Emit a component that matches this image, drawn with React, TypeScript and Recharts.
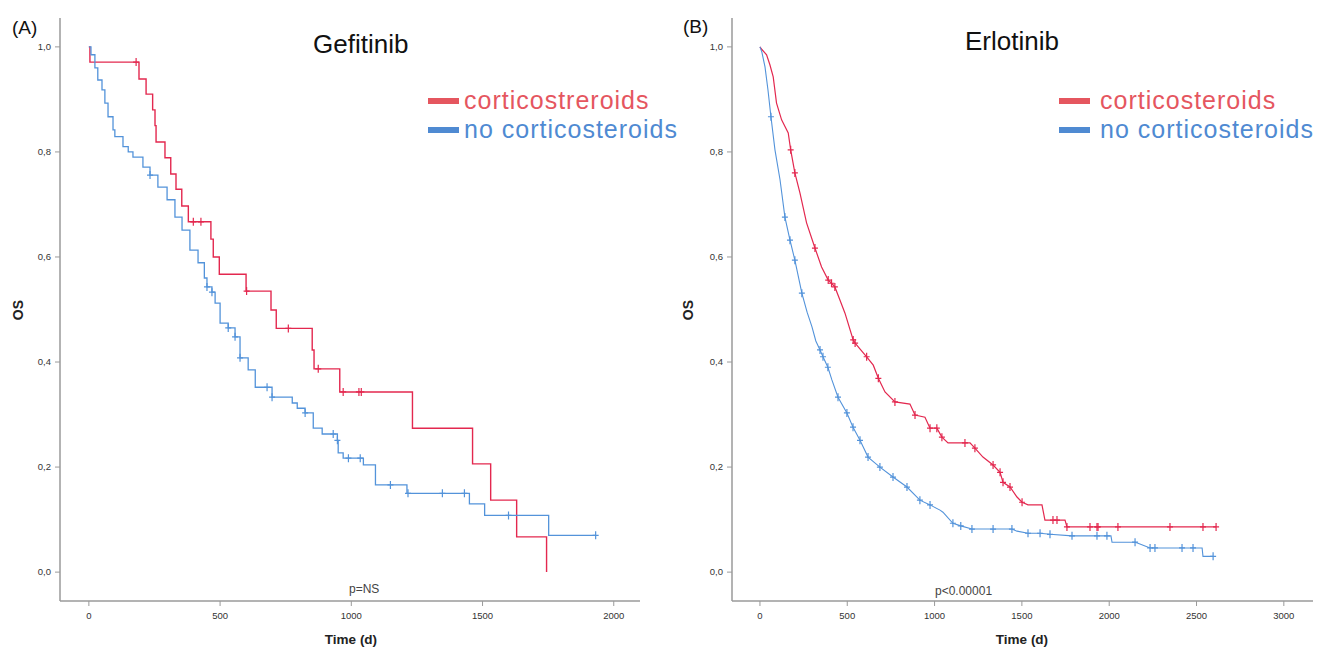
import React from "react";
import { LineChart, Line, XAxis, YAxis, Legend } from "recharts";

// [time (d), OS, censored?]
type Pt = [number, number, number?];

const gefCortico: Pt[] = [
  [0, 1], [4, 0.971], [180, 0.971, 1], [191, 0.939], [218, 0.91], [243, 0.88], [252, 0.85],
  [256, 0.819], [290, 0.789], [312, 0.758], [332, 0.729], [354, 0.697], [379, 0.667],
  [398, 0.667, 1], [427, 0.667, 1], [465, 0.634], [474, 0.6], [497, 0.567], [599, 0.535],
  [601, 0.535, 1], [694, 0.499], [714, 0.464], [760, 0.464, 1], [851, 0.423], [858, 0.387],
  [874, 0.387, 1], [956, 0.343], [969, 0.343, 1], [1029, 0.343, 1], [1038, 0.343, 1],
  [1233, 0.274], [1462, 0.206], [1531, 0.137], [1630, 0.067], [1744, 0],
];

const gefNoCortico: Pt[] = [
  [0, 1], [8, 0.985], [23, 0.96], [34, 0.937], [50, 0.918], [61, 0.893], [73, 0.867],
  [92, 0.842], [99, 0.829], [130, 0.81], [150, 0.8], [168, 0.79], [206, 0.771],
  [233, 0.756, 1], [263, 0.733], [298, 0.709], [328, 0.676], [355, 0.651], [385, 0.613],
  [416, 0.589], [440, 0.56], [450, 0.543, 1], [469, 0.533, 1], [481, 0.512], [500, 0.474],
  [531, 0.465, 1], [557, 0.448, 1], [576, 0.408, 1], [607, 0.385], [634, 0.352],
  [679, 0.352, 1], [698, 0.333, 1], [775, 0.322], [794, 0.312], [824, 0.303, 1], [855, 0.274],
  [889, 0.263], [931, 0.263, 1], [947, 0.251, 1], [950, 0.227], [969, 0.217], [989, 0.217, 1],
  [1034, 0.217, 1], [1046, 0.204], [1092, 0.166], [1149, 0.166, 1], [1212, 0.15],
  [1216, 0.15, 1], [1347, 0.15, 1], [1431, 0.15, 1], [1450, 0.13], [1508, 0.108],
  [1599, 0.108, 1], [1752, 0.07], [1931, 0.07, 1],
];

const erlCortico: Pt[] = [
  [0, 1], [11, 0.995], [38, 0.985], [57, 0.966], [76, 0.943], [95, 0.893], [124, 0.861],
  [162, 0.836], [176, 0.804, 1], [200, 0.76, 1], [229, 0.722], [267, 0.665], [315, 0.617, 1],
  [353, 0.581], [391, 0.556, 1], [410, 0.55, 1], [429, 0.543, 1], [458, 0.518], [487, 0.493],
  [534, 0.442, 1], [545, 0.436, 1], [611, 0.41, 1], [649, 0.394], [678, 0.369, 1], [716, 0.343],
  [773, 0.324, 1], [859, 0.32], [888, 0.299, 1], [945, 0.295], [974, 0.274, 1],
  [1013, 0.274, 1], [1042, 0.257, 1], [1077, 0.246], [1174, 0.246, 1], [1203, 0.246],
  [1231, 0.236, 1], [1277, 0.219], [1335, 0.204, 1], [1375, 0.19, 1], [1392, 0.171, 1],
  [1432, 0.162, 1], [1472, 0.143], [1501, 0.133, 1], [1535, 0.128], [1615, 0.128],
  [1632, 0.099], [1678, 0.099, 1], [1701, 0.099, 1], [1747, 0.099], [1758, 0.086, 1],
  [1890, 0.086, 1], [1930, 0.086, 1], [1936, 0.086, 1], [2050, 0.086, 1], [2348, 0.086, 1],
  [2537, 0.086, 1], [2612, 0.086, 1],
];

const erlNoCortico: Pt[] = [
  [0, 1], [11, 0.99], [29, 0.962], [46, 0.918], [63, 0.867, 1], [86, 0.804], [115, 0.747],
  [143, 0.676, 1], [172, 0.632, 1], [200, 0.594, 1], [240, 0.531, 1], [270, 0.495],
  [298, 0.467], [320, 0.44], [344, 0.423, 1], [361, 0.41, 1], [389, 0.39, 1], [412, 0.366],
  [447, 0.333, 1], [498, 0.303, 1], [533, 0.276, 1], [573, 0.251, 1], [619, 0.219, 1],
  [687, 0.2, 1], [762, 0.181, 1], [842, 0.162, 1], [916, 0.137, 1], [974, 0.128, 1],
  [1031, 0.118], [1048, 0.114], [1105, 0.093, 1], [1150, 0.088, 1], [1214, 0.082, 1],
  [1335, 0.082, 1], [1443, 0.082, 1], [1472, 0.078], [1535, 0.074, 1], [1604, 0.074, 1],
  [1661, 0.072, 1], [1787, 0.069, 1], [1930, 0.069, 1], [1987, 0.069, 1], [2010, 0.069],
  [2016, 0.057], [2148, 0.057, 1], [2165, 0.055], [2234, 0.046, 1], [2262, 0.046, 1],
  [2417, 0.046, 1], [2480, 0.046, 1], [2532, 0.046], [2537, 0.03], [2595, 0.03, 1],
];

const survTicks = [0, 0.2, 0.4, 0.6, 0.8, 1.0];
const gefTimeTicks = [0, 500, 1000, 1500, 2000];
const erlTimeTicks = [0, 500, 1000, 1500, 2000, 2500, 3000];

const gefNames = ["corticostreroids", "no corticosteroids"];
const erlNames = ["corticosteroids", "no corticosteroids"];

const FONT = '"Liberation Sans", Arial, sans-serif';
const RED = "#e3284f";
const BLUE = "#5393da";
const LEG_RED = "#e5565f";
const LEG_BLUE = "#4f8ad2";
const AXIS = "#9a9a9a";

const toRows = (pts: Pt[]) => pts.map(([t, s, c]) => ({ t, s, c: c ?? 0 }));

const censorDot = (color: string) => (props: any) => {
  const { cx, cy, payload, index } = props;
  if (!payload || !payload.c || cx == null || cy == null) return <g key={`n${index}`} />;
  return (
    <path
      key={`c${index}`}
      d={`M${cx - 3},${cy}h6M${cx},${cy - 4}v8`}
      stroke={color}
      strokeWidth={1.2}
      fill="none"
    />
  );
};

type PanelProps = {
  left: number;
  width: number;
  right: number;
  xDomain: [number, number];
  xTicks: number[];
  cortico: Pt[];
  noCortico: Pt[];
  names: string[];
  curve: "stepAfter" | "linear";
  lineWidth: number;
  legendLeft: number;
  legendGap: number;
};

function Panel(p: PanelProps) {
  const legendColors = [LEG_RED, LEG_BLUE];
  return (
    <div style={{ position: "absolute", left: p.left, top: 0 }}>
      <LineChart width={p.width} height={648} margin={{ top: 18, right: p.right, bottom: 17, left: 0 }}>
        <XAxis
          dataKey="t"
          type="number"
          domain={p.xDomain}
          ticks={p.xTicks}
          allowDataOverflow
          interval={0}
          height={30}
          axisLine={{ stroke: AXIS, strokeWidth: 1.5 }}
          tickLine={{ stroke: AXIS }}
          tickSize={5}
          tickMargin={6}
          tick={{ fill: "#333", fontSize: 9.5, fontFamily: FONT }}
        />
        <YAxis
          type="number"
          domain={[-0.055, 1.055]}
          ticks={survTicks}
          allowDataOverflow
          interval={0}
          width={60}
          axisLine={{ stroke: AXIS, strokeWidth: 1.5 }}
          tickLine={{ stroke: AXIS }}
          tickSize={5}
          tickMargin={4}
          tick={{ fill: "#333", fontSize: 9.5, fontFamily: FONT }}
          tickFormatter={(v: number) => v.toFixed(1).replace(".", ",")}
        />
        <Legend
          layout="vertical"
          align="center"
          verticalAlign="middle"
          wrapperStyle={{ left: p.legendLeft, top: 86, bottom: "auto", width: 280, height: 58 }}
          content={(lp: any) => (
            <div style={{ fontFamily: FONT }}>
              {(lp.payload || []).map((e: any, i: number) => (
                <div key={i} style={{ display: "flex", alignItems: "center", height: 28.5 }}>
                  <div style={{ width: 31, height: 6, marginTop: 2, background: legendColors[i] }} />
                  <span
                    style={{
                      marginLeft: p.legendGap,
                      fontSize: 25,
                      lineHeight: "28.5px",
                      letterSpacing: 1.0,
                      color: legendColors[i],
                      whiteSpace: "nowrap",
                    }}
                  >
                    {e.value}
                  </span>
                </div>
              ))}
            </div>
          )}
        />
        <Line
          data={toRows(p.cortico)}
          dataKey="s"
          name={p.names[0]}
          type={p.curve}
          stroke={RED}
          strokeWidth={p.lineWidth + 0.1}
          dot={censorDot(RED)}
          activeDot={false}
          isAnimationActive={false}
        />
        <Line
          data={toRows(p.noCortico)}
          dataKey="s"
          name={p.names[1]}
          type={p.curve}
          stroke={BLUE}
          strokeWidth={p.lineWidth}
          dot={censorDot(BLUE)}
          activeDot={false}
          isAnimationActive={false}
        />
      </LineChart>
    </div>
  );
}

export default function App() {
  return (
    <div style={{ position: "absolute", left: 0, top: 0, width: 1319, height: 648, background: "#fff", overflow: "hidden" }}>
      <Panel
        left={0}
        width={660}
        right={20}
        xDomain={[-110, 2100]}
        xTicks={gefTimeTicks}
        cortico={gefCortico}
        noCortico={gefNoCortico}
        names={gefNames}
        curve="stepAfter"
        lineWidth={1.3}
        legendLeft={428}
        legendGap={5}
      />
      <Panel
        left={672}
        width={647}
        right={6}
        xDomain={[-160, 3167]}
        xTicks={erlTimeTicks}
        cortico={erlCortico}
        noCortico={erlNoCortico}
        names={erlNames}
        curve="linear"
        lineWidth={1.1}
        legendLeft={387}
        legendGap={10}
      />
      <svg width={1319} height={648} style={{ position: "absolute", left: 0, top: 0, pointerEvents: "none" }} fontFamily={FONT}>
        <text x={12} y={34} fontSize={19} fill="#111">(A)</text>
        <text x={683} y={33} fontSize={19} fill="#111">(B)</text>
        <text x={313} y={53} fontSize={26} fill="#111">Gefitinib</text>
        <text x={965} y={50} fontSize={26} fill="#111">Erlotinib</text>
        <text x={349} y={593} fontSize={12} fill="#444">p=NS</text>
        <text x={935} y={595} fontSize={12} fill="#444">p&lt;0.00001</text>
        <text x={18} y={310} fontSize={14} fontWeight="bold" fill="#222" textAnchor="middle" dominantBaseline="central" transform="rotate(-90 18 310)">OS</text>
        <text x={688} y={310} fontSize={14} fontWeight="bold" fill="#222" textAnchor="middle" dominantBaseline="central" transform="rotate(-90 688 310)">OS</text>
        <text x={351} y={644} fontSize={13.5} fontWeight="bold" fill="#222" textAnchor="middle">Time (d)</text>
        <text x={1022} y={644} fontSize={13.5} fontWeight="bold" fill="#222" textAnchor="middle">Time (d)</text>
      </svg>
    </div>
  );
}
